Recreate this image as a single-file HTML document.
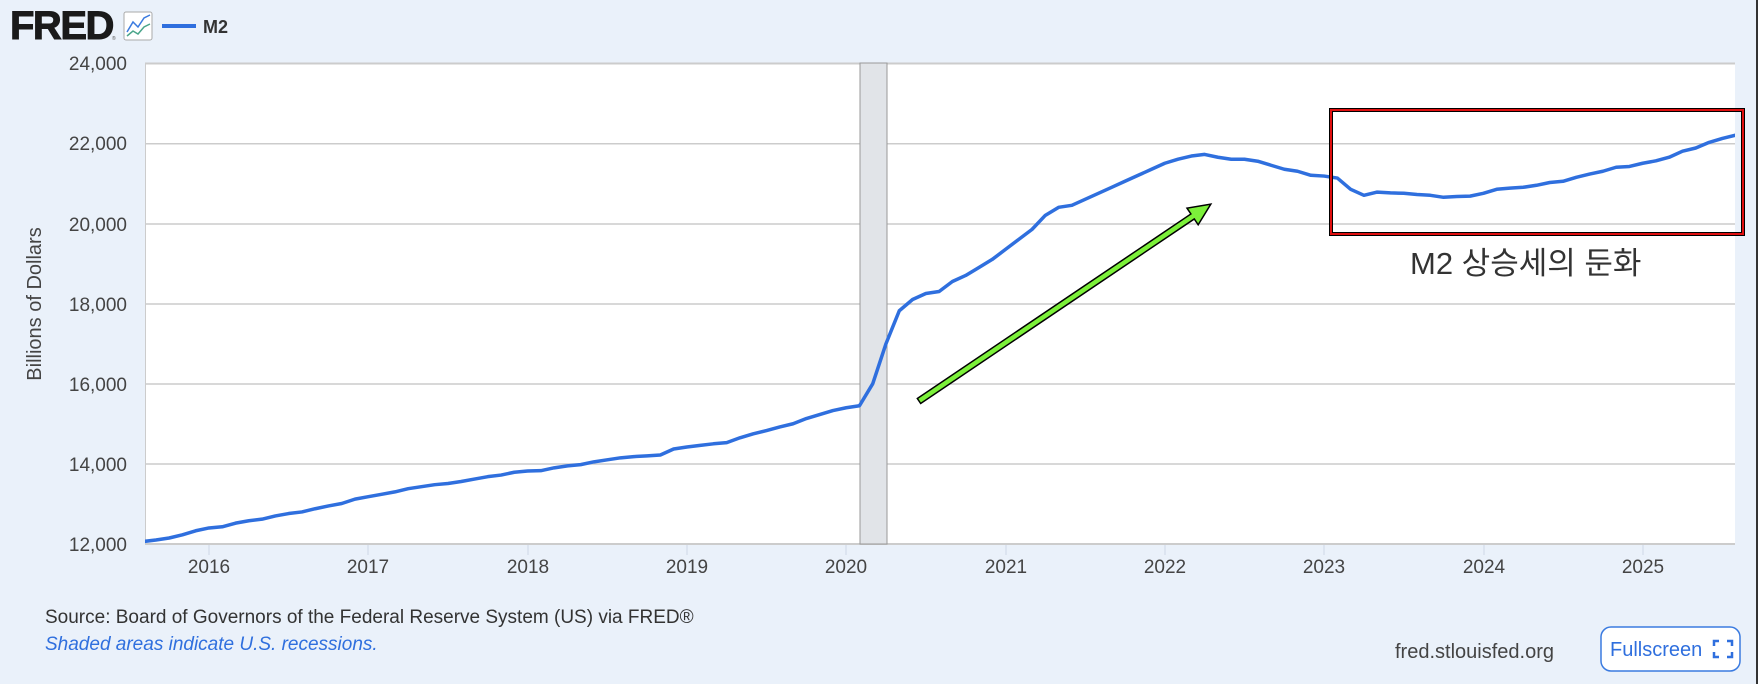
<!DOCTYPE html>
<html><head><meta charset="utf-8"><style>
body{margin:0;width:1758px;height:684px;background:#eaf1fa;font-family:"Liberation Sans","Noto Sans CJK KR",sans-serif;position:relative;overflow:hidden}
</style></head><body>
<div style="position:absolute;right:0;top:0;width:2px;height:684px;background:#333"></div>
<svg width="1758" height="684" style="position:absolute;left:0;top:0">
<text x="10" y="39" font-family="Liberation Sans" font-weight="bold" font-size="40" fill="#1a1a1a" stroke="#1a1a1a" stroke-width="1" letter-spacing="-1.5">FRED</text>
<text x="112" y="40" font-size="5" fill="#555">®</text>
<rect x="124" y="12" width="28" height="28" rx="2" fill="#fff" stroke="#aaa"/>
<polyline points="127,32 133,22 138,27 144,18 150,15" fill="none" stroke="#3b7be0" stroke-width="1.5"/>
<polyline points="127,36 133,31 138,34 144,27 150,24" fill="none" stroke="#4aa58a" stroke-width="1.5"/>
<line x1="162" y1="26" x2="196" y2="26" stroke="#2f6fde" stroke-width="4"/>
<text x="203" y="33" font-weight="bold" font-size="18" fill="#333">M2</text>
<rect x="145" y="63" width="1590" height="481" fill="#fff"/>
<line x1="145" y1="63.5" x2="1735" y2="63.5" stroke="#ccc" stroke-width="2"/>
<line x1="145.5" y1="63" x2="145.5" y2="544" stroke="#ccc"/>
<g stroke="#ccc" stroke-width="1.5">
<line x1="145" y1="143.8" x2="1735" y2="143.8"/><line x1="145" y1="224" x2="1735" y2="224"/><line x1="145" y1="304" x2="1735" y2="304"/><line x1="145" y1="384" x2="1735" y2="384"/><line x1="145" y1="464" x2="1735" y2="464"/></g>
<line x1="145" y1="544" x2="1735" y2="544" stroke="#ccc" stroke-width="2"/>
<rect x="860" y="63" width="27" height="481" fill="#e1e4e8" stroke="#999"/>
<g stroke="#cdd6e6">
<line x1="209" y1="545" x2="209" y2="555"/><line x1="368" y1="545" x2="368" y2="555"/><line x1="528" y1="545" x2="528" y2="555"/><line x1="687" y1="545" x2="687" y2="555"/><line x1="846" y1="545" x2="846" y2="555"/><line x1="1006" y1="545" x2="1006" y2="555"/><line x1="1165" y1="545" x2="1165" y2="555"/><line x1="1324" y1="545" x2="1324" y2="555"/><line x1="1484" y1="545" x2="1484" y2="555"/><line x1="1643" y1="545" x2="1643" y2="555"/></g>
<g font-size="19" fill="#444" text-anchor="middle">
<text x="209" y="573">2016</text><text x="368" y="573">2017</text><text x="528" y="573">2018</text><text x="687" y="573">2019</text><text x="846" y="573">2020</text><text x="1006" y="573">2021</text><text x="1165" y="573">2022</text><text x="1324" y="573">2023</text><text x="1484" y="573">2024</text><text x="1643" y="573">2025</text></g>
<g font-size="19" fill="#444" text-anchor="end">
<text x="127" y="70">24,000</text><text x="127" y="150">22,000</text><text x="127" y="231">20,000</text><text x="127" y="311">18,000</text><text x="127" y="391">16,000</text><text x="127" y="471">14,000</text><text x="127" y="551">12,000</text></g>
<text transform="translate(41,304) rotate(-90)" font-size="20" fill="#444" text-anchor="middle">Billions of Dollars</text>
<clipPath id="c"><rect x="145" y="63" width="1590" height="481"/></clipPath>
<g clip-path="url(#c)"><polyline transform="translate(209,1024.96) scale(13.275,-0.04008)" vector-effect="non-scaling-stroke" fill="none" stroke="#2f6fde" stroke-width="3.5" stroke-linejoin="round"
points="-5,12060 -4,12100 -3,12150 -2,12230 -1,12330 0,12400 1,12430 2,12520 3,12580 4,12620 5,12700 6,12760 7,12800 8,12880 9,12950 10,13010 11,13120 12,13180 13,13240 14,13300 15,13380 16,13430 17,13480 18,13510 19,13560 20,13620 21,13680 22,13720 23,13790 24,13820 25,13830 26,13900 27,13950 28,13980 29,14050 30,14100 31,14150 32,14180 33,14200 34,14220 35,14370 36,14420 37,14460 38,14500 39,14530 40,14650 41,14750 42,14830 43,14920 44,15000 45,15130 46,15230 47,15330 48,15400 49,15450 50,16000 51,17000 52,17820 53,18100 54,18250 55,18300 56,18550 57,18700 58,18900 59,19100 60,19350 61,19600 62,19850 63,20200 64,20400 65,20450 66,20600 67,20750 68,20900 69,21050 70,21200 71,21350 72,21500 73,21600 74,21680 75,21720 76,21650 77,21600 78,21600 79,21550 80,21450 81,21350 82,21300 83,21200 84,21180 85,21130 86,20850 87,20700 88,20780 89,20760 90,20750 91,20720 92,20700 93,20650 94,20670 95,20680 96,20750 97,20850 98,20880 99,20900 100,20950 101,21020 102,21050 103,21150 104,21230 105,21300 106,21400 107,21420 108,21500 109,21560 110,21650 111,21800 112,21880 113,22020 114,22120 115,22200"/></g>
<rect x="1331" y="110" width="412" height="124" fill="none" stroke="#000" stroke-width="4"/>
<rect x="1331" y="110" width="412" height="124" fill="none" stroke="#e01010" stroke-width="2"/>
<g transform="translate(919,401) rotate(-34.0)">
<polygon points="0,-3 330,-3 330,-10 352,0 330,10 330,3 0,3" fill="#7cf03a" stroke="#000" stroke-width="1.5"/></g>
<text x="1410" y="274" font-size="31" fill="#333">M2 상승세의 둔화</text>
<text x="45" y="623" font-size="19" fill="#333">Source: Board of Governors of the Federal Reserve System (US) via FRED®</text>
<text x="45" y="650" font-size="19" fill="#2f6fde" font-style="italic">Shaded areas indicate U.S. recessions.</text>
<text x="1395" y="658" font-size="20" fill="#444">fred.stlouisfed.org</text>
<rect x="1601" y="627" width="139" height="44" rx="10" fill="#fff" stroke="#3b7be0" stroke-width="1.5"/>
<text x="1610" y="656" font-size="20" fill="#2f6fde">Fullscreen</text>
<g fill="none" stroke="#2f6fde" stroke-width="2.5"><polyline points="1714,646 1714,641 1719,641"/><polyline points="1727,641 1732,641 1732,646"/><polyline points="1714,652 1714,657 1719,657"/><polyline points="1727,657 1732,657 1732,652"/></g>
</svg>
</body></html>
